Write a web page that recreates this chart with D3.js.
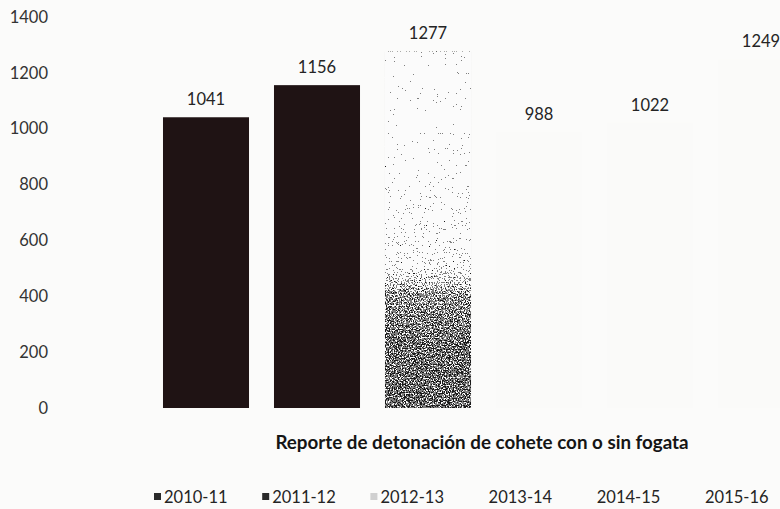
<!DOCTYPE html>
<html>
<head>
<meta charset="utf-8">
<script src="https://cdn.jsdelivr.net/npm/d3@7"></script>
<style>
  html, body { margin: 0; padding: 0; background: #fbfbfa; }
  svg { display: block; font-family: Lato, "Open Sans", sans-serif; }
</style>
</head>
<body>
<svg id="chart" width="780" height="509"></svg>
<script>
// ---- data ----
const categories = ["2010-11", "2011-12", "2012-13", "2013-14", "2014-15", "2015-16"];
const values = [1041, 1156, 1277, 988, 1022, 1249];
const yTicks = [0, 200, 400, 600, 800, 1000, 1200, 1400];
const title = "Reporte de detonación de cohete con o sin fogata";
// colours per season (scan: first two solid, third speckled, rest washed out)
const colors = ["#1f1314", "#1f1314", "url(#spgrad)", "#fafaf9", "#fafaf9", "#fafaf9"];
const legendColors = ["#2a2a2a", "#2a2a2a", "#d0d0d0", "none", "none", "none"];

const svg = d3.select("#chart");

// defs: speckled texture for the scanned third bar
const defs = svg.append("defs");
const grad = defs.append("linearGradient")
  .attr("id", "spgrad").attr("x1", 0).attr("y1", 0).attr("x2", 0).attr("y2", 1);
[[0, 1.0], [0.3, 0.95], [0.5, 0.88], [0.6, 0.8], [0.68, 0.45], [0.8, 0.33], [1, 0.3]]
  .forEach(([o, v]) => { const c = Math.min(255, v * 255);
    grad.append("stop").attr("offset", o).attr("stop-color", d3.rgb(c, c, c).formatHex()); });
const filt = defs.append("filter").attr("id", "grain")
  .attr("x", 0).attr("y", 0).attr("width", 1).attr("height", 1)
  .attr("color-interpolation-filters", "sRGB");
filt.append("feTurbulence").attr("type", "fractalNoise").attr("baseFrequency", 0.75)
  .attr("numOctaves", 2).attr("seed", 7).attr("result", "noise");
filt.append("feColorMatrix").attr("in", "noise").attr("type", "matrix")
  .attr("values", "1 0 0 0 0  1 0 0 0 0  1 0 0 0 0  0 0 0 0 1").attr("result", "gnoise");
filt.append("feComposite").attr("in", "SourceGraphic").attr("in2", "gnoise")
  .attr("operator", "arithmetic").attr("k1", 0).attr("k2", 1).attr("k3", 1.8).attr("k4", -0.9)
  .attr("result", "mix");
const ct = filt.append("feComponentTransfer").attr("in", "mix").attr("result", "bw");
["feFuncR", "feFuncG", "feFuncB"].forEach(f =>
  ct.append(f).attr("type", "discrete").attr("tableValues", "0.1 0.5 0.985 0.985"));
filt.append("feComposite").attr("in", "bw").attr("in2", "SourceGraphic").attr("operator", "in");

// ---- scales ----
const y = d3.scaleLinear().domain([0, 1400]).range([408, 17]);
const x = d3.scaleBand().domain(categories).range([150.5, 816.5])
  .paddingInner(0.225).paddingOuter(0.1125);

// ---- y axis (labels only) ----
const yAxis = svg.append("g")
  .attr("transform", "translate(48,0)")
  .call(d3.axisLeft(y).tickValues(yTicks).tickSize(0).tickPadding(0).tickFormat(d3.format("d")));
yAxis.select(".domain").remove();
yAxis.selectAll("text")
  .attr("font-family", "Lato, 'Open Sans', sans-serif")
  .attr("font-size", 16.5).attr("fill", "#333");

// ---- bars ----
svg.append("g").selectAll("rect").data(values).join("rect")
  .attr("x", (d, i) => x(categories[i]))
  .attr("width", x.bandwidth())
  .attr("y", d => y(d))
  .attr("height", d => y(0) - y(d))
  .attr("fill", (d, i) => colors[i])
  .attr("filter", (d, i) => i === 2 ? "url(#grain)" : null);

// ---- value labels ----
svg.append("g").selectAll("text").data(values).join("text")
  .attr("x", (d, i) => x(categories[i]) + x.bandwidth() / 2)
  .attr("y", d => y(d) - 12)
  .attr("text-anchor", "middle")
  .attr("font-size", 16.5).attr("fill", "#242424")
  .text(d => d);

// ---- title ----
svg.append("text")
  .attr("x", 482).attr("y", 449)
  .attr("text-anchor", "middle")
  .attr("font-size", 18.8).attr("font-weight", "bold").attr("fill", "#151515")
  .text(title);

// ---- legend ----
const legend = svg.append("g").attr("transform", "translate(0,497)");
const legX = d3.scalePoint().domain(categories).range([154, 695]);
const item = legend.selectAll("g").data(categories).join("g")
  .attr("transform", d => `translate(${legX(d)},0)`);
item.append("rect")
  .attr("x", 0).attr("y", -4).attr("width", 7).attr("height", 7)
  .attr("fill", (d, i) => legendColors[i]);
item.append("text")
  .attr("x", 10).attr("y", 0).attr("dy", "0.35em")
  .attr("font-size", 16.5).attr("fill", "#242424")
  .text(d => d);
</script>
</body>
</html>
